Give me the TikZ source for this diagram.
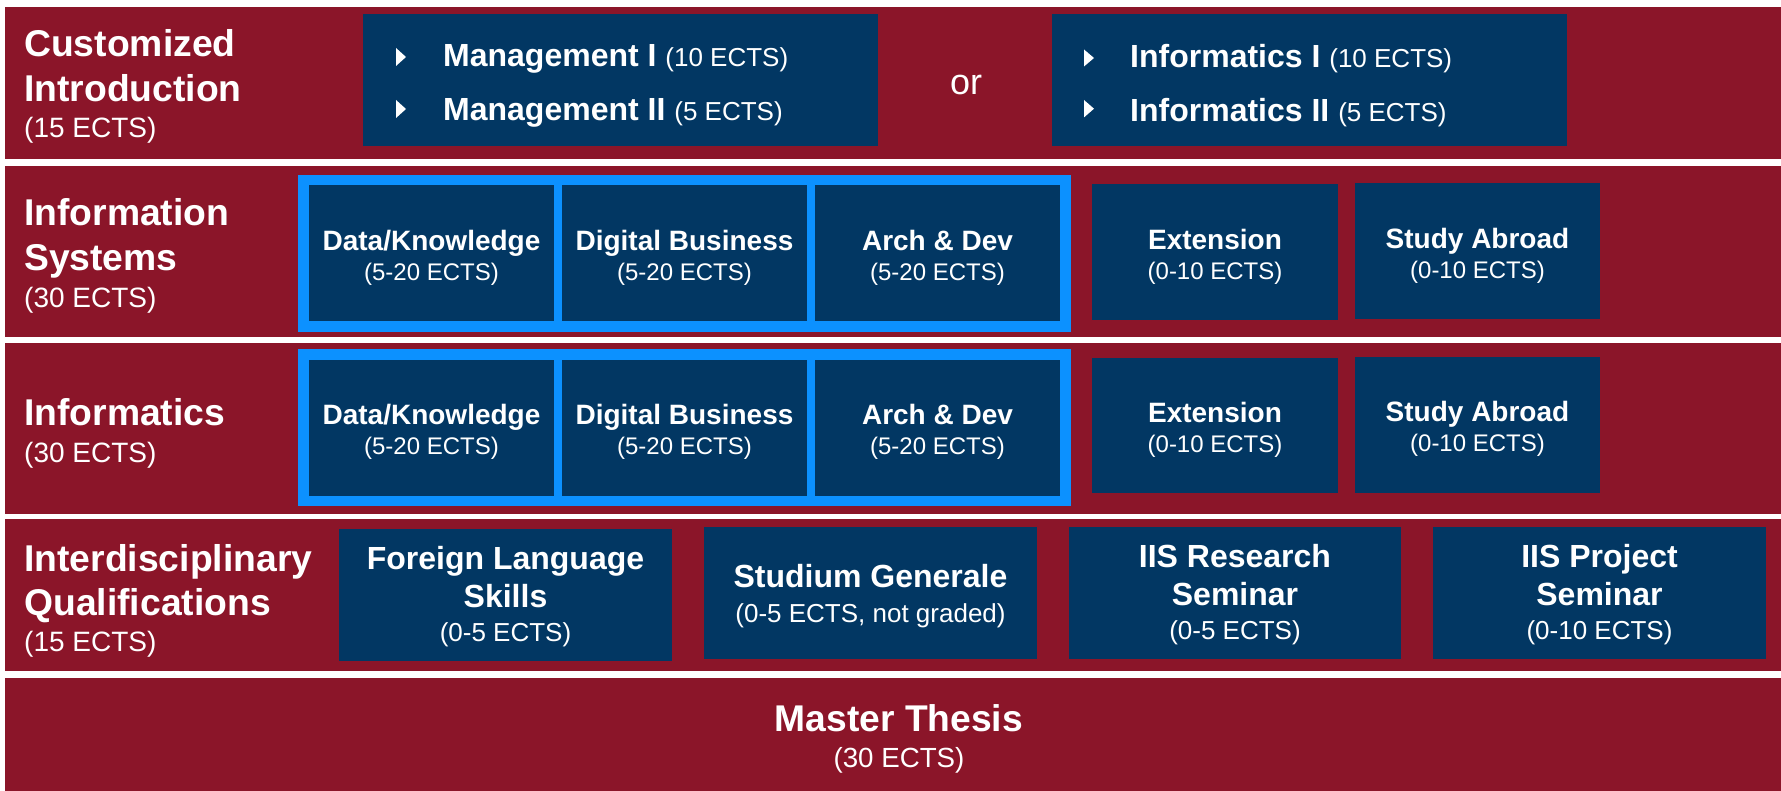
\documentclass[tikz,border=0pt]{standalone}
\usepackage{fontspec}
\setmainfont{Liberation Sans}
\definecolor{bandred}{RGB}{139,21,41}
\definecolor{navy}{RGB}{2,55,99}
\definecolor{skyblue}{RGB}{12,145,255}
\newcommand\fsz[2]{\fontsize{#1}{#2}\selectfont}
\newcommand\lbf{\bfseries\fsz{37.3}{45}}
\newcommand\cbf{\bfseries\fsz{28}{30}}
\newcommand\rbf{\bfseries\fsz{32}{38}}
\newcommand\mbf{\bfseries\fsz{32}{53.3}}
\newcommand\mreg{\mdseries\fsz{26}{53.3}}
\begin{document}
\begin{tikzpicture}[x=1pt,y=-1pt,
  band/.style={fill=bandred, inner sep=0, minimum width=1776, minimum height=#1},
  navybox/.style={fill=navy, inner sep=0, minimum width=#1},
  frame/.style={fill=skyblue, inner sep=0, minimum width=773, minimum height=157},
  cell/.style={navybox=245, minimum height=136},
  sidebox/.style={navybox=#1, minimum height=136},
  qualbox/.style={navybox=#1, minimum height=132},
  ctext/.style={text=white, align=center, inner sep=0, font=\fsz{24}{30}},
  qtext/.style={text=white, align=center, inner sep=0, font=\fsz{26}{38}},
  rowlabel/.style={anchor=north west, inner sep=0, text=white, align=left, font=\fsz{28}{45}},
  listtext/.style={anchor=north west, inner sep=0, text=white, align=left, font=\fsz{26}{53.3}},
  bullet/.style={fill=white}
]
\fill[white] (0,0) rectangle (1781,791);
\useasboundingbox (0,0) rectangle (1781,791);

% bands
\node[band=152] (b1) at (893,83) {};
\node[band=171] (b2) at (893,251.5) {};
\node[band=171] (b3) at (893,428.5) {};
\node[band=152] (b4) at (893,595) {};
\node[band=115, label={[text=white, align=center, inner sep=0, font=\fsz{27.7}{36}, yshift=-3.5pt, xshift=6pt]center:{\bfseries\fsz{37.2}{36}Master Thesis\\(30 ECTS)}}] (b5) at (893,735) {};

% row labels
\node[rowlabel] (lbl1) at (24,29.7) {\lbf Customized\\\lbf Introduction\\[-9pt](15 ECTS)};
\node[rowlabel] (lbl2) at (24,198) {\lbf Information\\\lbf Systems\\[-8pt](30 ECTS)};
\node[rowlabel] (lbl3) at (24,398) {\lbf Informatics\\[-8pt](30 ECTS)};
\node[rowlabel] (lbl4) at (24,544.5) {\lbf Interdisciplinary\\[-1pt]\lbf Qualifications\\[-9pt](15 ECTS)};

% row 1: customized introduction
\node[navybox=515, minimum height=132] (mgmt) at (620.5,80) {};
\node[navybox=515, minimum height=132] (info) at (1309.5,80) {};
\node[listtext] (mgmttxt) at (443,44.5)
  {\mbf Management I \mreg(10 ECTS)\\
   \mbf Management II \mreg(5 ECTS)};
\node[listtext] (infotxt) at (1130,44.5)
  {\mbf Informatics I \mreg(10 ECTS)\\
   \mbf Informatics II \mreg(5 ECTS)};
\fill[bullet] (396,48) -- (406,57) -- (396,66) -- cycle;
\fill[bullet] (396,100) -- (406,109) -- (396,118) -- cycle;
\fill[bullet] (1084,49.5) -- (1094,58) -- (1084,66.5) -- cycle;
\fill[bullet] (1084,100) -- (1094,108.7) -- (1084,117.4) -- cycle;
\node[text=white, inner sep=0, font=\fsz{36}{40}] (or) at (966,85) {or};

% row 2: information systems
\node[frame] (fr2) at (684.5,253.5) {};
\node[cell, label={[ctext, yshift=-5pt]center:{\cbf Data/Knowledge\\(5-20 ECTS)}}] (is1) at (431.5,253) {};
\node[cell, label={[ctext, yshift=-5pt]center:{\cbf Digital Business\\(5-20 ECTS)}}] (is2) at (684.5,253) {};
\node[cell, label={[ctext, yshift=-5pt]center:{\cbf Arch \& Dev\\(5-20 ECTS)}}] (is3) at (937.5,253) {};
\node[sidebox=246, label={[ctext, yshift=-5pt]center:{\cbf Extension\\(0-10 ECTS)}}] (isext) at (1215,252) {};
\node[sidebox=245, label={[ctext, yshift=-5pt]center:{\cbf Study Abroad\\(0-10 ECTS)}}] (isabr) at (1477.5,251) {};

% row 3: informatics
\node[frame] (fr3) at (684.5,427.5) {};
\node[cell, label={[ctext, yshift=-4pt]center:{\cbf Data/Knowledge\\(5-20 ECTS)}}] (in1) at (431.5,428) {};
\node[cell, label={[ctext, yshift=-4pt]center:{\cbf Digital Business\\(5-20 ECTS)}}] (in2) at (684.5,428) {};
\node[cell, label={[ctext, yshift=-4pt]center:{\cbf Arch \& Dev\\(5-20 ECTS)}}] (in3) at (937.5,428) {};
\node[sidebox=246, minimum height=135, label={[ctext, yshift=-4pt]center:{\cbf Extension\\(0-10 ECTS)}}] (inext) at (1215,425.5) {};
\node[sidebox=245, label={[ctext, yshift=-4pt]center:{\cbf Study Abroad\\(0-10 ECTS)}}] (inabr) at (1477.5,425) {};

% row 4: interdisciplinary qualifications
\node[qualbox=333, label={[qtext, yshift=-2pt]center:{\rbf Foreign Language\\\rbf Skills\\[-4pt](0-5 ECTS)}}] (fls) at (505.5,595) {};
\node[qualbox=333, label={[qtext, yshift=-3.5pt]center:{\rbf Studium Generale\\[-3pt](0-5 ECTS, not graded)}}] (sg) at (870.5,593) {};
\node[qualbox=332, label={[qtext, yshift=-2pt]center:{\rbf IIS Research\\\rbf Seminar\\[-4pt](0-5 ECTS)}}] (iisr) at (1235,593) {};
\node[qualbox=333, label={[qtext, yshift=-2pt]center:{\rbf IIS Project\\\rbf Seminar\\[-4pt](0-10 ECTS)}}] (iisp) at (1599.5,593) {};
\end{tikzpicture}
\end{document}
